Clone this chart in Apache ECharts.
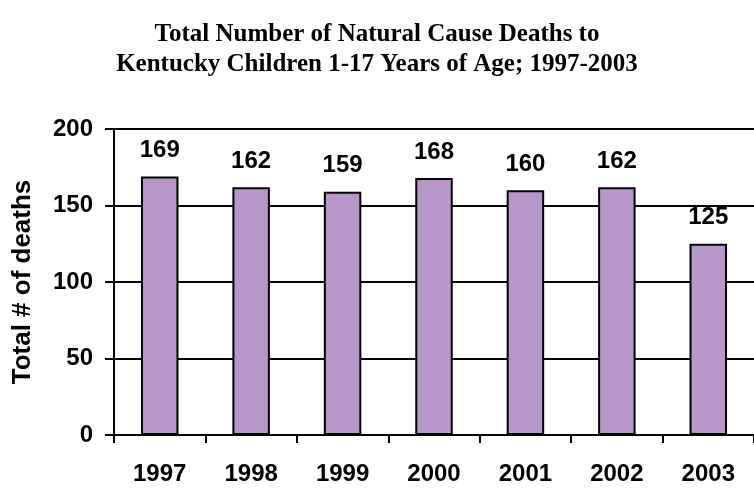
<!DOCTYPE html>
<html>
<head>
<meta charset="utf-8">
<script src="https://cdn.jsdelivr.net/npm/echarts@6/dist/echarts.min.js"></script>
<style>
  html, body { margin: 0; padding: 0; background: #fff; }
  #chart { width: 754px; height: 490px; }
</style>
</head>
<body>
<div id="chart"></div>
<script>
const titleLines = ['Total Number of Natural Cause Deaths to', 'Kentucky Children 1-17 Years of Age; 1997-2003'];
const years = ['1997', '1998', '1999', '2000', '2001', '2002', '2003'];
const deaths = [169, 162, 159, 168, 160, 162, 125];
const yAxisTitle = 'Total # of deaths';

const chart = echarts.init(document.getElementById('chart'), null, { renderer: 'canvas' });
chart.setOption({
  animation: false,
  backgroundColor: '#ffffff',
  title: {
    text: titleLines.join('\n'),
    left: 'center',
    top: 15,
    textStyle: {
      fontFamily: 'Liberation Serif',
      fontWeight: 'bold',
      fontSize: 25,
      lineHeight: 30,
      color: '#000'
    }
  },
  grid: { left: 114, top: 129, height: 306, width: 650 },
  xAxis: {
    type: 'category',
    data: years,
    boundaryGap: true,
    axisLine: { show: true, lineStyle: { color: '#000', width: 2 } },
    axisTick: { show: true, length: 8, lineStyle: { color: '#000', width: 2 } },
    axisLabel: {
      color: '#000',
      fontFamily: 'Liberation Sans',
      fontWeight: 'bold',
      fontSize: 24,
      margin: 27
    }
  },
  yAxis: {
    type: 'value',
    min: 0,
    max: 200,
    interval: 50,
    name: yAxisTitle,
    nameLocation: 'middle',
    nameGap: 78,
    nameRotate: 90,
    nameTextStyle: {
      color: '#000',
      fontFamily: 'Liberation Sans',
      fontWeight: 'bold',
      fontSize: 26
    },
    axisLine: { show: true, lineStyle: { color: '#000', width: 2 } },
    axisTick: { show: true, length: 9, lineStyle: { color: '#000', width: 2 } },
    axisLabel: {
      color: '#000',
      fontFamily: 'Liberation Sans',
      fontWeight: 'bold',
      fontSize: 24,
      margin: 21
    },
    splitLine: { show: true, lineStyle: { color: '#000', width: 2 } }
  },
  series: [{
    type: 'bar',
    data: deaths,
    barWidth: '41%',
    itemStyle: { color: '#B797C7', borderColor: '#000', borderWidth: 2 },
    label: {
      show: true,
      position: 'top',
      distance: 14,
      color: '#000',
      fontFamily: 'Liberation Sans',
      fontWeight: 'bold',
      fontSize: 24
    }
  }]
});
</script>
</body>
</html>
